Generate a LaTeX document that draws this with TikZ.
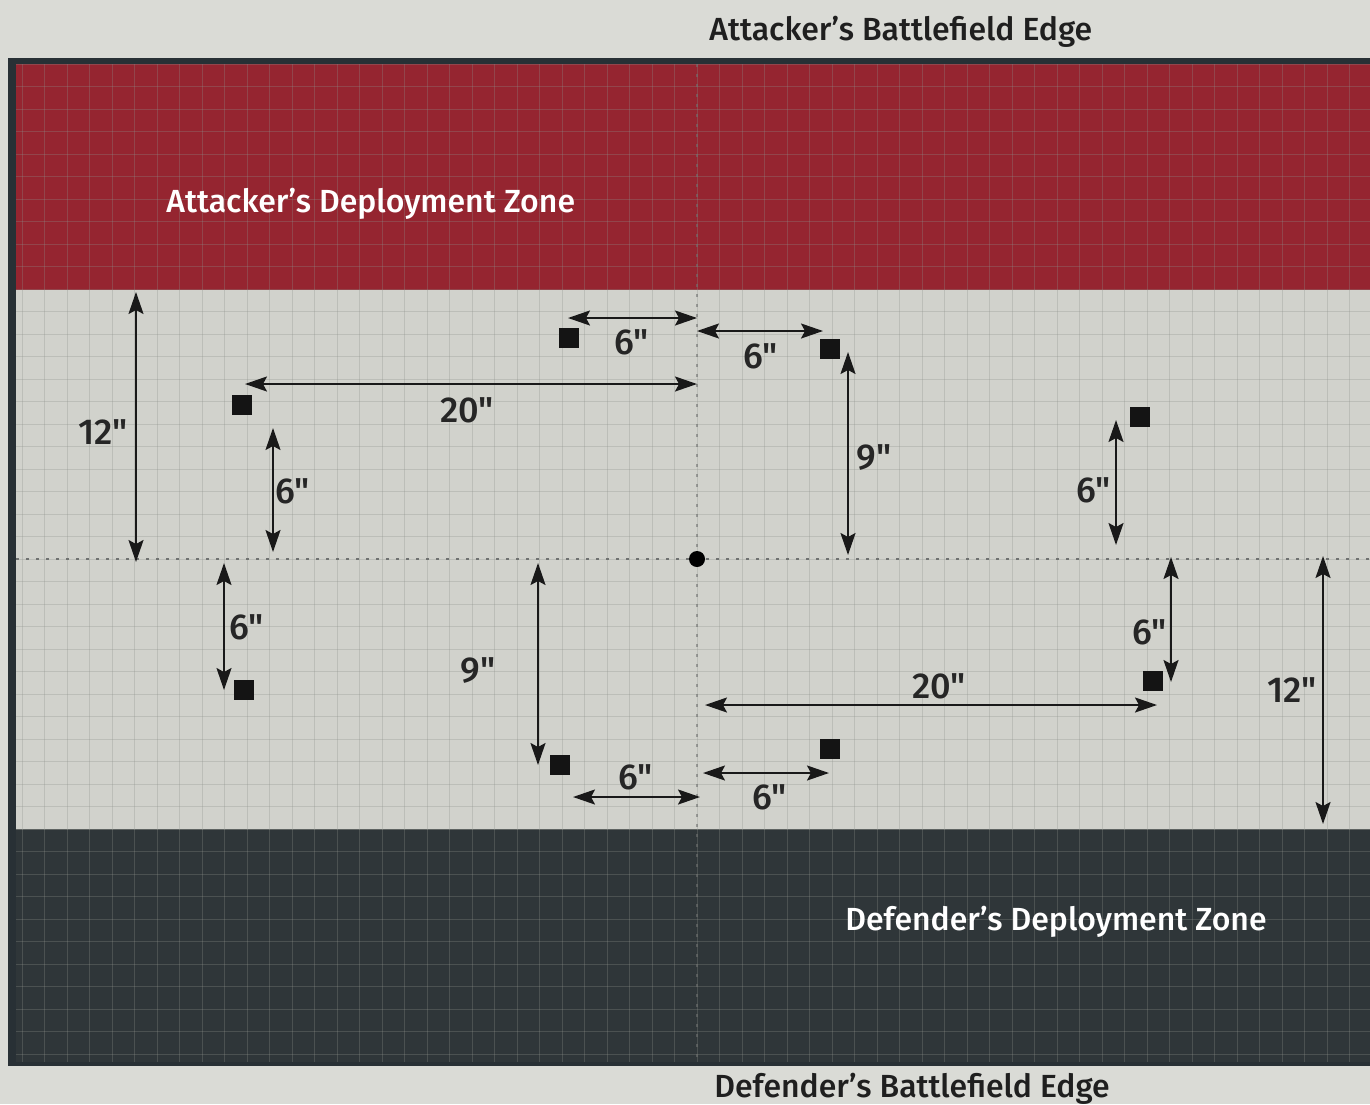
\documentclass[tikz,border=0pt]{standalone}
\usepackage{fontspec}
\setmainfont{Fira Sans}
\newfontfamily\medfont{Fira Sans Medium}
\usetikzlibrary{positioning,arrows.meta}
\definecolor{cPaper}{HTML}{DADBD6}
\definecolor{cField}{HTML}{D1D2CC}
\definecolor{cAtk}{HTML}{952530}
\definecolor{cDef}{HTML}{2F3639}
\definecolor{cFrame}{HTML}{283035}
\definecolor{cGrid}{HTML}{8E918B}
\definecolor{cDot}{HTML}{6F7170}
\tikzset{
  meas/.style={{Stealth[length=11pt,width=7.5pt,inset=2pt]}-{Stealth[length=11pt,width=7.5pt,inset=2pt]},
               line width=1pt, black!90},
  dist/.style={font=\medfont\fontsize{18}{18}\selectfont, text=black!85, inner sep=1pt},
  obj/.style={fill=black!92, minimum size=10pt, inner sep=0pt},
  zone/.style={font=\medfont\fontsize{16}{16}\selectfont, text=white, anchor=base west, inner sep=0pt},
  edgelbl/.style={font=\medfont\fontsize{16}{16}\selectfont, text=black!88, anchor=base west, inner sep=0pt},
  gridline/.style={cGrid, line width=0.35pt, opacity=0.3},
  centreline/.style={cDot, line width=1.3pt, dash pattern=on 1.3pt off 3.7pt},
}

\begin{document}
\begin{tikzpicture}[x=0.5pt, y=-0.5pt]
    \useasboundingbox (0,0) rectangle (1370,1104);
    \fill[cPaper] (0,0) rectangle (1370,1104);

    % board with its frame and the two deployment zones
    \fill[cFrame] (8,58) rectangle (1370,1066);
    \fill[cAtk]   (16,64)  rectangle (1370,290);
    \fill[cField] (16,290) rectangle (1370,829);
    \fill[cDef]   (16,829) rectangle (1370,1062);

    % one-inch grid, faint on the zones
    \begin{scope}
      \clip (16,290) rectangle (1370,829);
      \foreach \i in {-31,...,31}
        \draw[gridline] (697+\i*22.5,64) -- (697+\i*22.5,1062);
      \foreach \j in {-22,...,22}
        \draw[gridline] (16,559+\j*22.5) -- (1370,559+\j*22.5);
    \end{scope}
    \begin{scope}[opacity=0.4]
      \clip (16,64) rectangle (1370,290) (16,829) rectangle (1370,1062);
      \foreach \i in {-31,...,31}
        \draw[gridline] (697+\i*22.5,64) -- (697+\i*22.5,1062);
      \foreach \j in {-22,...,22}
        \draw[gridline] (16,559+\j*22.5) -- (1370,559+\j*22.5);
    \end{scope}

    % centre lines
    \coordinate (vtop) at (697,64);   \coordinate (vbot) at (697,1062);
    \coordinate (hlft) at (16,559);   \coordinate (hrgt) at (1370,559);
    \draw[centreline, opacity=0.6] (vtop) -- (vbot);
    \draw[centreline] (hlft) -- (hrgt);
    \node[circle, fill=black, minimum size=8pt, inner sep=0pt] (ctr) at (697,559) {};

    % objective markers
    \foreach \n/\x/\y in {o1/569/338, o2/830/349, o3/242/405, o4/1140/417,
                          o5/244/690, o6/1153/681, o7/830/749, o8/560/765}
      \node[obj] (\n) at (\x,\y) {};

    % distances
    \foreach \n/\ax/\ay/\bx/\by/\lx/\ly/\t in {
        m1/136/292/136/562/103/432/12,   m2/568/318/697/318/632/342/6,
        m3/697/331/823/331/761/356/6,    m4/245/384/697/384/467/410/20,
        m5/848/352/848/555/874/458/9,    m6/273/428/273/552/293/491/6,
        m7/1116/420/1116/545/1094/490/6, m8/224/563/224/690/247/627/6,
        m9/538/563/538/765/478/670/9,    m10/1171/557/1171/682/1150/632/6,
        m11/705/705/1157/705/939/686/20, m12/1323/556/1323/824/1292/690/12,
        m13/573/797/700/797/636/777/6,   m14/703/773/829/773/770/797/6}
    {
      \coordinate (\n a) at (\ax,\ay);
      \coordinate (\n b) at (\bx,\by);
      \draw[meas] (\n a) -- (\n b);
      \node[dist] (\n l) at (\lx,\ly) {\t"};
    }

    % zone and edge names
    \node[edgelbl] (atkedge) at (709,40)   {Attacker’s Battlefield Edge};
    \node[zone]    (atkzone) at (166,212)  {Attacker’s Deployment Zone};
    \node[zone]    (defzone) at (845,930)  {Defender’s Deployment Zone};
    \node[edgelbl] (defedge) at (714,1097) {Defender’s Battlefield Edge};
  \end{tikzpicture}
\end{document}
